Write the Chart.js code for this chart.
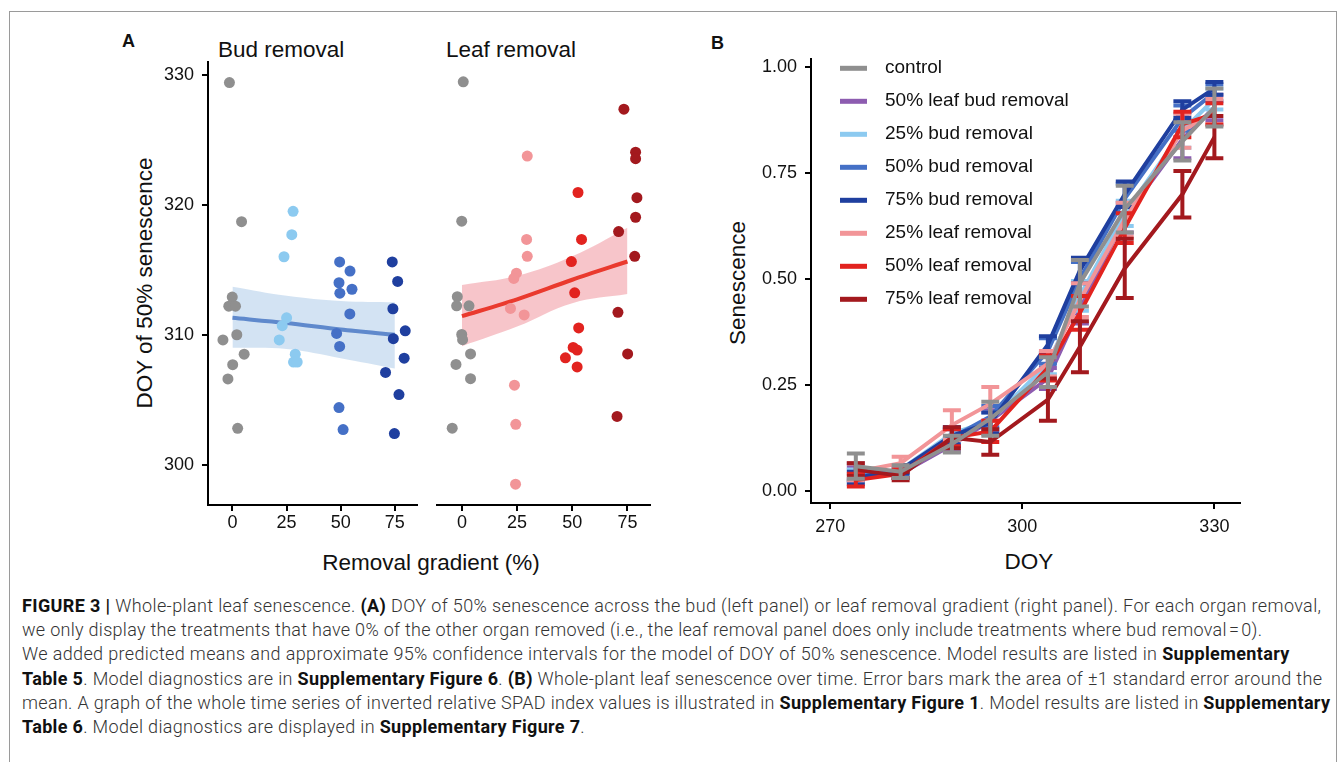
<!DOCTYPE html>
<html>
<head>
<meta charset="utf-8">
<script src="https://cdn.jsdelivr.net/npm/chart.js@4.4.0/dist/chart.umd.min.js"></script>
<style>
  body { margin: 0; background: #fff; width: 1344px; height: 762px; overflow: hidden; position: relative;
         font-family: "Liberation Sans", Arial, sans-serif; color: #111; }
  canvas { position: absolute; }
  .lbl { position: absolute; white-space: nowrap; }
  .frame { position: absolute; left: 9px; top: 11px; width: 1326px; height: 800px; border: 1px solid #9a9a9a; }
  .caption { position: absolute; left: 22px; top: 594px; font-family: "Roboto", sans-serif; font-weight: 300;
             font-size: 18px; line-height: 24.2px; color: #333; white-space: nowrap; }
  .caption span { display: block; width: max-content; }
  .caption b { color: #111; font-weight: 700; }
</style>
</head>
<body>
<div class="frame"></div>

<div class="lbl" style="left:122px;top:31px;font-size:18px;font-weight:bold;">A</div>
<div class="lbl" style="left:711px;top:33px;font-size:18px;font-weight:bold;">B</div>
<div class="lbl" style="left:218px;top:37px;font-size:22.5px;">Bud removal</div>
<div class="lbl" style="left:446px;top:37px;font-size:22.5px;">Leaf removal</div>
<div class="lbl" style="left:145px;top:283px;font-size:22.5px;transform:translate(-50%,-50%) rotate(-90deg);">DOY of 50% senescence</div>
<div class="lbl" style="left:431px;top:563px;font-size:22.5px;transform:translate(-50%,-50%);">Removal gradient (%)</div>
<div class="lbl" style="left:738px;top:283px;font-size:22.5px;transform:translate(-50%,-50%) rotate(-90deg);">Senescence</div>
<div class="lbl" style="left:1029px;top:562px;font-size:22.5px;transform:translate(-50%,-50%);">DOY</div>

<canvas id="budChart" width="272" height="502" style="left:150px;top:43px;"></canvas>
<canvas id="leafChart" width="225" height="502" style="left:430px;top:43px;"></canvas>
<canvas id="seneChart" width="510" height="503" style="left:740px;top:40px;"></canvas>

<div class="caption" id="caption">
<span><b>FIGURE 3 |</b> Whole-plant leaf senescence. <b>(A)</b> DOY of 50% senescence across the bud (left panel) or leaf removal gradient (right panel). For each organ removal,</span>
<span>we only display the treatments that have 0% of the other organ removed (i.e., the leaf removal panel does only include treatments where bud removal&#8202;=&#8202;0).</span>
<span>We added predicted means and approximate 95% confidence intervals for the model of DOY of 50% senescence. Model results are listed in <b>Supplementary</b></span>
<span><b>Table 5</b>. Model diagnostics are in <b>Supplementary Figure 6</b>. <b>(B)</b> Whole-plant leaf senescence over time. Error bars mark the area of &plusmn;1 standard error around the</span>
<span>mean. A graph of the whole time series of inverted relative SPAD index values is illustrated in <b>Supplementary Figure 1</b>. Model results are listed in <b>Supplementary</b></span>
<span><b>Table 6</b>. Model diagnostics are displayed in <b>Supplementary Figure 7</b>.</span>
</div>

<script>
// PANEL A - DOY of 50% senescence (jittered x)

const removalTicks = [0, 25, 50, 75];
const doyTicks = [300, 310, 320, 330];

const budCtrlX = [-1.4, 4.2, -0.1, -1.7, 1.4, 2.0, -4.4, 5.4, 0.1, -2.1, 2.4];
const budCtrlY = [329.4, 318.7, 312.9, 312.2, 312.2, 310.0, 309.6, 308.5, 307.7, 306.6, 302.8];
const bud25X = [28, 27.4, 23.8, 25, 23, 21.6, 29, 28.2, 29.9];
const bud25Y = [319.5, 317.7, 316.0, 311.3, 310.7, 309.6, 308.5, 307.9, 307.9];
const bud50X = [49.5, 54.3, 49.2, 49.6, 55.2, 54.2, 48.1, 49.5, 49.2, 51.1];
const bud50Y = [315.6, 314.9, 314.0, 313.2, 313.5, 311.6, 310.1, 309.1, 304.4, 302.7];
const bud75X = [73.8, 76.3, 74.1, 79.8, 74.3, 79.3, 70.7, 76.9, 74.8];
const bud75Y = [315.6, 314.1, 312.0, 310.3, 309.7, 308.2, 307.1, 305.4, 302.4];

const leafCtrlX = [0.6, -0.1, -2.1, -2.4, 3.2, -0.1, 0.3, 3.9, -2.7, 3.9, -4.4];
const leafCtrlY = [329.4, 318.7, 312.9, 312.2, 312.2, 310.0, 309.6, 308.5, 307.7, 306.6, 302.8];
const leaf25X = [29.6, 29.3, 29.6, 24.7, 23.5, 22, 28.2, 23.8, 24.4, 24.3];
const leaf25Y = [323.7, 317.3, 316.0, 314.7, 314.3, 312.0, 311.5, 306.1, 303.1, 298.5];
const leaf50X = [52.6, 54.2, 49.6, 51.1, 52.9, 50.4, 52.2, 46.9, 52.2];
const leaf50Y = [320.9, 317.3, 315.6, 313.2, 310.5, 309.0, 308.8, 308.2, 307.5];
const leaf75X = [73.4, 78.7, 78.7, 79.3, 78.7, 71, 78.3, 70.7, 75.1, 70.3];
const leaf75Y = [327.3, 324.0, 323.5, 320.5, 319.0, 317.9, 316.0, 311.7, 308.5, 303.7];

// model fit + 95% CI
const fitX = [0, 25, 50, 75];
const budFit = [311.3, 310.9, 310.4, 310.0];
const budUpper = [313.7, 313.0, 312.6, 312.5];
const budLower = [309.0, 308.9, 308.2, 307.4];
const leafFit = [311.4, 312.7, 314.2, 315.6];
const leafUpper = [313.8, 314.5, 316.0, 318.2];
const leafLower = [309.1, 310.6, 312.4, 313.1];

// PANEL B - senescence over time
const doyDays = [274, 281, 289, 295, 304, 309, 316, 325, 330];
const seneTicks = [0, 0.25, 0.5, 0.75, 1];
const dayTicks = [270, 300, 330];

const treatments = ["control", "50% leaf bud removal", "25% bud removal", "50% bud removal",
  "75% bud removal", "25% leaf removal", "50% leaf removal", "75% leaf removal"];
const treatmentColors = ["#8f8f8f", "#8d5cb0", "#8ccaf0", "#4570c6", "#1f3f9f", "#f29598", "#e2231f", "#a3191e"];

const seneControl = [0.058, 0.045, 0.110, 0.170, 0.280, 0.490, 0.665, 0.825, 0.905];
const seneLeafBud50 = [0.040, 0.040, 0.108, 0.165, 0.265, 0.430, 0.645, 0.830, 0.905];
const seneBud25 = [0.035, 0.050, 0.135, 0.165, 0.300, 0.460, 0.655, 0.850, 0.925];
const seneBud50 = [0.045, 0.045, 0.125, 0.175, 0.330, 0.500, 0.690, 0.880, 0.940];
const seneBud75 = [0.030, 0.050, 0.130, 0.160, 0.345, 0.520, 0.700, 0.900, 0.950];
const seneLeaf25 = [0.045, 0.065, 0.155, 0.205, 0.300, 0.450, 0.640, 0.850, 0.895];
const seneLeaf50 = [0.025, 0.040, 0.125, 0.140, 0.290, 0.420, 0.620, 0.865, 0.890];
const seneLeaf75 = [0.050, 0.035, 0.125, 0.115, 0.215, 0.340, 0.525, 0.700, 0.835];

const seControl = [0.030, 0.015, 0.020, 0.040, 0.035, 0.055, 0.055, 0.045, 0.045];
const seLeafBud50 = [0.015, 0.010, 0.015, 0.025, 0.025, 0.035, 0.035, 0.045, 0.030];
const seBud25 = [0.015, 0.010, 0.015, 0.020, 0.025, 0.035, 0.030, 0.040, 0.025];
const seBud50 = [0.020, 0.015, 0.020, 0.025, 0.030, 0.040, 0.035, 0.030, 0.020];
const seBud75 = [0.015, 0.010, 0.020, 0.025, 0.020, 0.030, 0.030, 0.020, 0.015];
const seLeaf25 = [0.020, 0.015, 0.035, 0.040, 0.030, 0.040, 0.040, 0.040, 0.030];
const seLeaf50 = [0.015, 0.010, 0.020, 0.025, 0.030, 0.040, 0.035, 0.030, 0.025];
const seLeaf75 = [0.015, 0.010, 0.025, 0.030, 0.050, 0.060, 0.070, 0.055, 0.050];

const seneMeans = [seneControl, seneLeafBud50, seneBud25, seneBud50, seneBud75, seneLeaf25, seneLeaf50, seneLeaf75];
const seneErrors = [seControl, seLeafBud50, seBud25, seBud50, seBud75, seLeaf25, seLeaf50, seLeaf75];
// control is drawn on top, then leaf series over bud series
const drawOrder = [0, 8, 7, 6, 5, 3, 2, 1];

// caption line widths in the page (px), last line follows the others
const captionWidths = [1299, 1240, 1267, 1300, 1308];

Chart.defaults.font.family = '"Liberation Sans", Arial, sans-serif';
Chart.defaults.color = "#111";
Chart.defaults.animation = false;

const pts = (xs, ys) => xs.map((x, i) => ({ x, y: ys[i] }));

function axisStyle(extra) {
  return Object.assign({
    type: "linear",
    border: { color: "#000", width: 2 },
    grid: { drawOnChartArea: false, drawTicks: true, tickLength: 6, color: "#000", lineWidth: 2 },
    ticks: { color: "#111", font: { size: 18 } },
  }, extra);
}

function scatterPanel(canvasId, groups, fit, upper, lower, ribbonColor, lineColor, showY, padLeft) {
  const datasets = [];
  groups.forEach((g) => {
    datasets.push({
      type: "scatter",
      data: pts(g.x, g.y),
      backgroundColor: g.color,
      borderWidth: 0,
      pointRadius: 5.5,
      order: 0,
    });
  });
  datasets.push({
    type: "line", data: pts(fitX, fit), borderColor: lineColor, borderWidth: 4,
    pointRadius: 0, tension: 0.3, fill: false, order: 1,
  });
  datasets.push({
    type: "line", data: pts(fitX, upper), borderWidth: 0, pointRadius: 0, tension: 0.4,
    backgroundColor: ribbonColor, fill: "+1", order: 2,
  });
  datasets.push({
    type: "line", data: pts(fitX, lower), borderWidth: 0, pointRadius: 0, tension: 0.4,
    fill: false, order: 2,
  });

  return new Chart(document.getElementById(canvasId), {
    data: { datasets },
    options: {
      responsive: false,
      // without y labels the panel gets no label padding on top, so add it by hand
      layout: { padding: { top: showY ? 6 : 18, right: 1, left: padLeft, bottom: 0 } },
      plugins: { legend: { display: false }, tooltip: { enabled: false } },
      scales: {
        x: axisStyle({
          min: -11.3, max: 85,
          afterBuildTicks: (s) => { s.ticks = removalTicks.map((v) => ({ value: v })); },
          afterFit: (s) => { s.height = 40; },
          ticks: { color: "#111", font: { size: 18 }, padding: 1 },
        }),
        y: axisStyle({
          display: showY,
          min: 296.9, max: 331,
          afterBuildTicks: (s) => { s.ticks = doyTicks.map((v) => ({ value: v })); },
          afterFit: (s) => { s.width = showY ? 58 : 0; },
          ticks: { color: "#111", font: { size: 18 }, padding: 8 },
        }),
      },
    },
  });
}

scatterPanel("budChart", [
  { x: budCtrlX, y: budCtrlY, color: "#8f8f8f" },
  { x: bud25X, y: bud25Y, color: "#8ccaf0" },
  { x: bud50X, y: bud50Y, color: "#4570c6" },
  { x: bud75X, y: bud75Y, color: "#1f3f9f" },
], budFit, budUpper, budLower, "rgba(168,199,232,0.5)", "#5f89cc", true, 0);

scatterPanel("leafChart", [
  { x: leafCtrlX, y: leafCtrlY, color: "#8f8f8f" },
  { x: leaf25X, y: leaf25Y, color: "#f29598" },
  { x: leaf50X, y: leaf50Y, color: "#e2231f" },
  { x: leaf75X, y: leaf75Y, color: "#a3191e" },
], leafFit, leafUpper, leafLower, "rgba(240,150,158,0.55)", "#ea3a2e", false, 7);

// error bars drawn right after each line so layering follows the lines
const errorBars = {
  id: "errorBars",
  afterDatasetDraw(chart, args) {
    const ds = chart.data.datasets[args.index];
    if (!ds.se) return;
    const { ctx, scales } = chart;
    ctx.save();
    ctx.strokeStyle = ds.borderColor;
    ctx.lineWidth = 4;
    ds.data.forEach((p, i) => {
      const x = scales.x.getPixelForValue(p.x);
      const xl = scales.x.getPixelForValue(p.x - 1.4);
      const xr = scales.x.getPixelForValue(p.x + 1.4);
      const yt = scales.y.getPixelForValue(p.y + ds.se[i]);
      const yb = scales.y.getPixelForValue(p.y - ds.se[i]);
      ctx.beginPath();
      ctx.moveTo(x, yt); ctx.lineTo(x, yb);
      ctx.moveTo(xl, yt); ctx.lineTo(xr, yt);
      ctx.moveTo(xl, yb); ctx.lineTo(xr, yb);
      ctx.stroke();
    });
    ctx.restore();
  },
};

const seneLegend = {
  id: "seneLegend",
  afterDraw(chart) {
    const { ctx, chartArea } = chart;
    ctx.save();
    ctx.font = '19px "Liberation Sans", Arial, sans-serif';
    ctx.textBaseline = "middle";
    treatments.forEach((name, i) => {
      const y = chartArea.top + 9 + i * 33;
      ctx.fillStyle = treatmentColors[i];
      ctx.fillRect(chartArea.left + 29, y - 2, 27, 5);
      ctx.fillStyle = "#111";
      ctx.fillText(name, chartArea.left + 74, y);
    });
    ctx.restore();
  },
};

new Chart(document.getElementById("seneChart"), {
  type: "line",
  data: {
    datasets: treatments.map((name, i) => ({
      label: name,
      data: pts(doyDays, seneMeans[i]),
      se: seneErrors[i],
      borderColor: treatmentColors[i],
      borderWidth: 4,
      pointRadius: 0,
      tension: 0,
      fill: false,
      order: drawOrder[i],
    })),
  },
  options: {
    responsive: false,
    layout: { padding: { top: 8, right: 10, left: 0, bottom: 0 } },
    plugins: { legend: { display: false }, tooltip: { enabled: false } },
    scales: {
      x: axisStyle({
        min: 267, max: 334,
        afterBuildTicks: (s) => { s.ticks = dayTicks.map((v) => ({ value: v })); },
        afterFit: (s) => { s.height = 40; },
        ticks: { color: "#111", font: { size: 18 }, padding: 7 },
      }),
      y: axisStyle({
        min: -0.029, max: 1.02,
        afterBuildTicks: (s) => { s.ticks = seneTicks.map((v) => ({ value: v })); },
        afterFit: (s) => { s.width = 71; },
        ticks: { color: "#111", font: { size: 18 }, padding: 8, callback: (v) => v.toFixed(2) },
      }),
    },
  },
  plugins: [errorBars, seneLegend],
});

// stretch caption lines to the measured widths
const lines = document.querySelectorAll("#caption span");
let spacingSum = 0;
captionWidths.forEach((target, i) => {
  const el = lines[i];
  const w = el.getBoundingClientRect().width;
  const ls = (target - w) / Math.max(el.textContent.length - 1, 1);
  el.style.letterSpacing = ls + "px";
  spacingSum += ls;
});
lines[5].style.letterSpacing = (spacingSum / captionWidths.length) + "px";
</script>
</body>
</html>
